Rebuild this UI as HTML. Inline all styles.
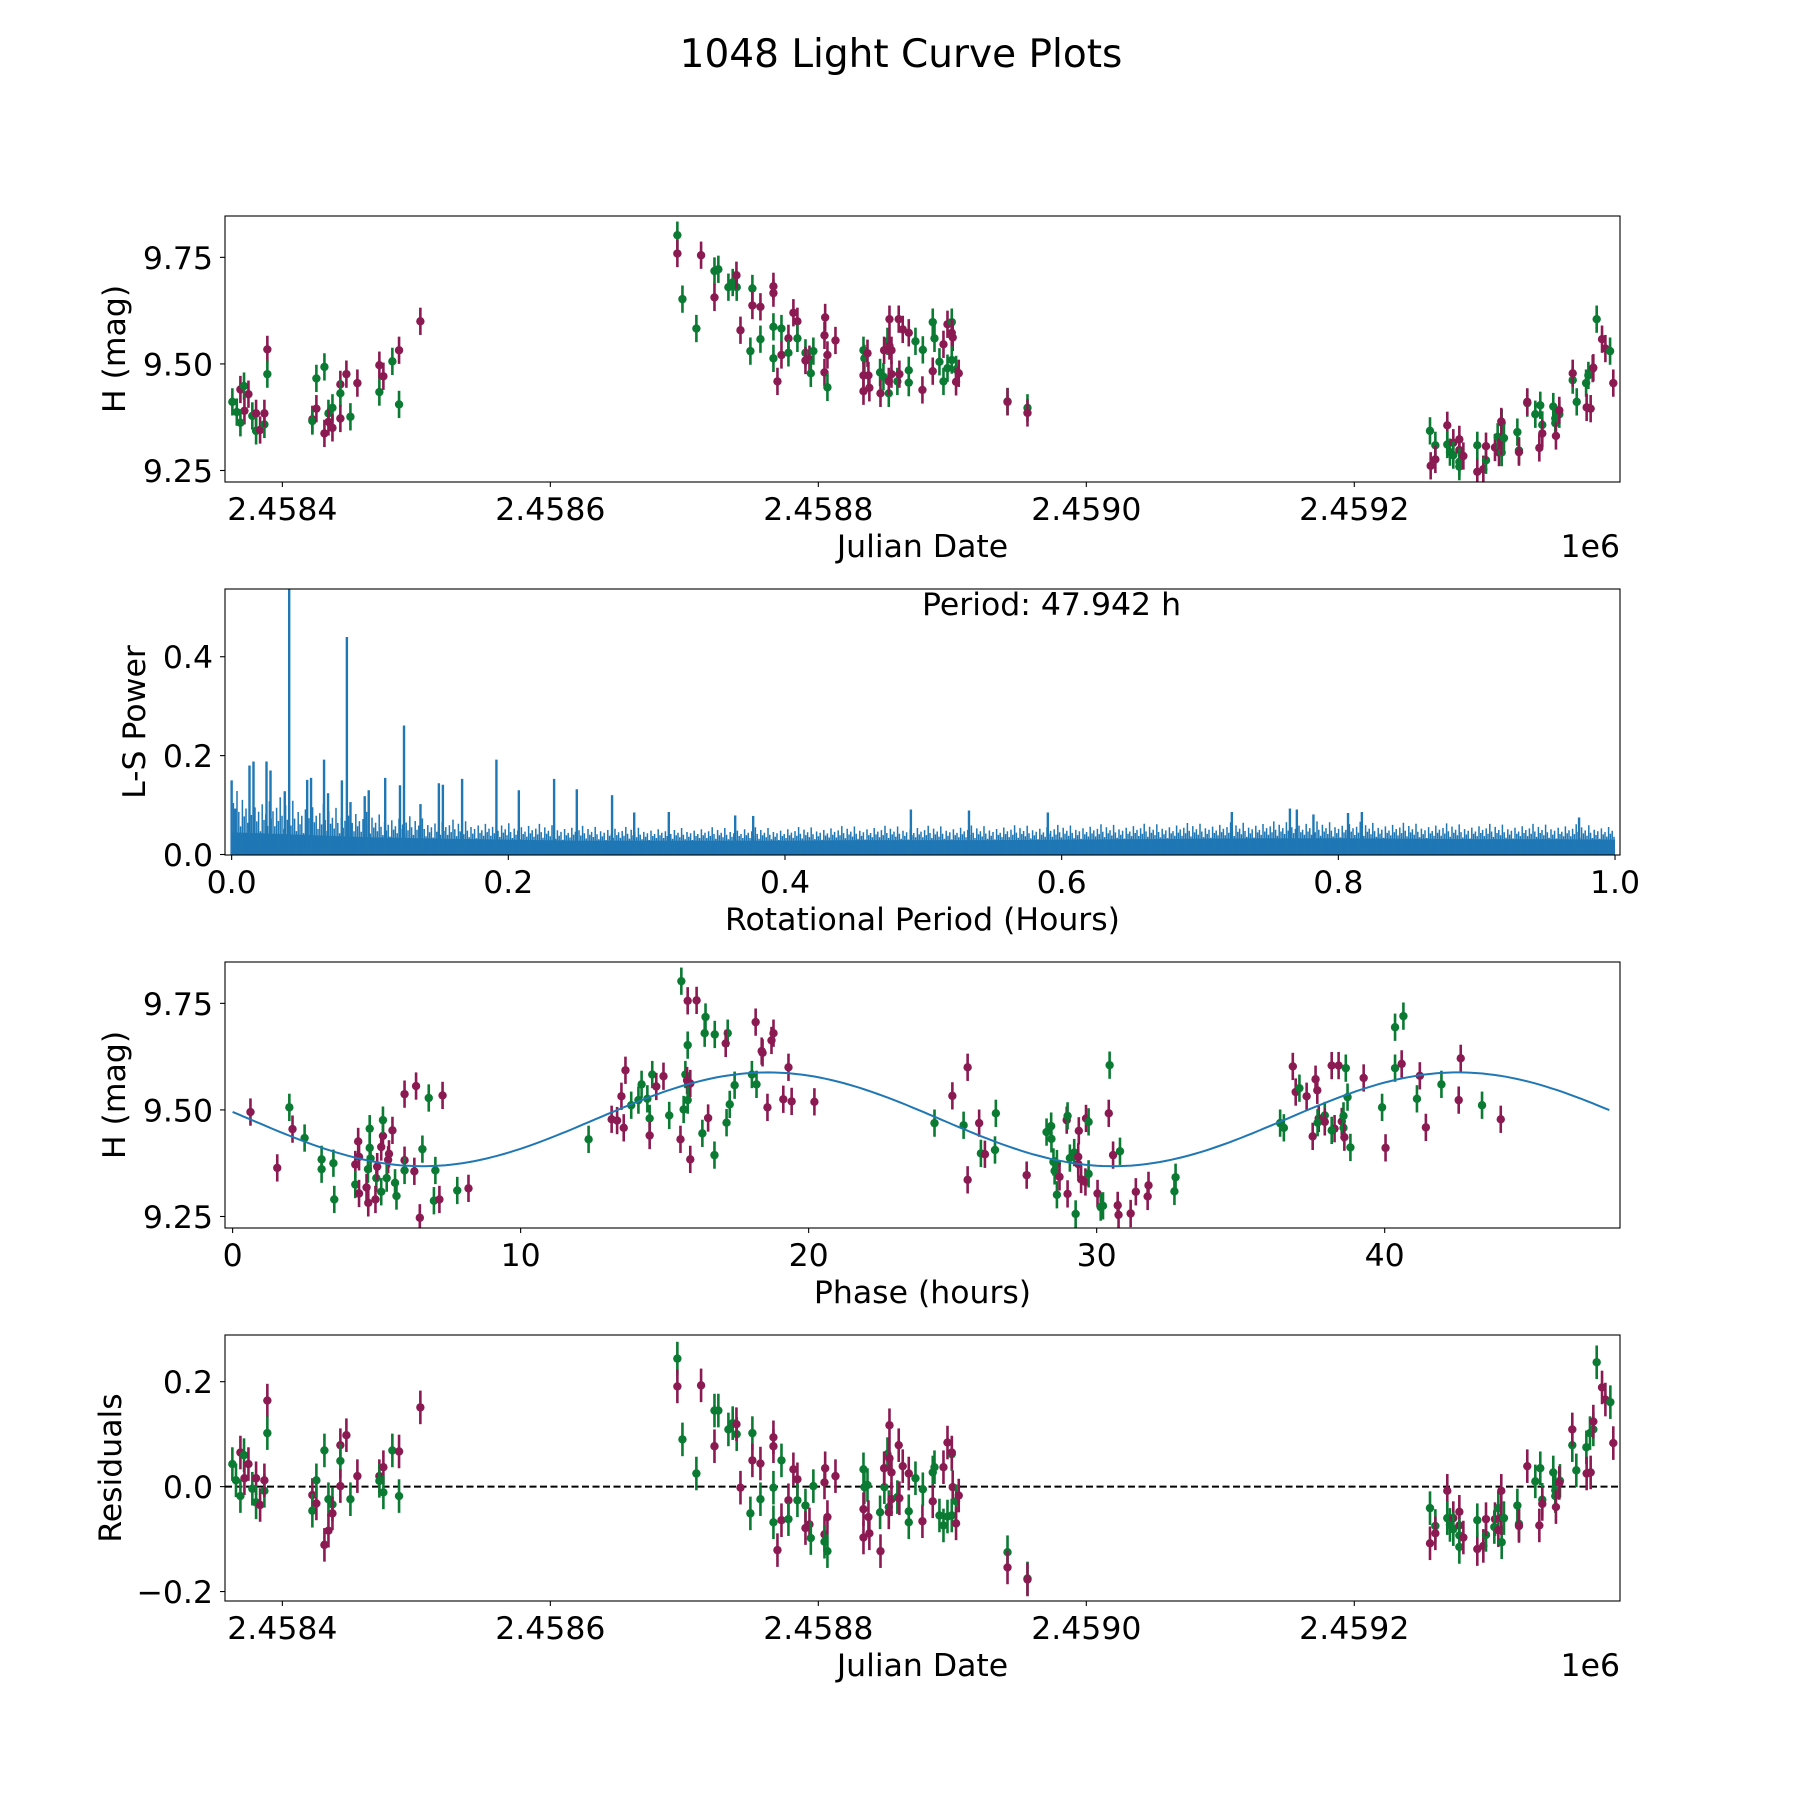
<!DOCTYPE html>
<html><head><meta charset="utf-8"><title>1048 Light Curve Plots</title>
<style>
html,body{margin:0;padding:0;background:#fff;}
svg{display:block;font-family:"DejaVu Sans","Liberation Sans",sans-serif;}
</style></head>
<body>
<svg id="fig" xmlns="http://www.w3.org/2000/svg" width="1800" height="1800" viewBox="0 0 1800 1800">
<rect width="1800" height="1800" fill="#fff"/>
<text x="901" y="67" font-size="39" text-anchor="middle">1048 Light Curve Plots</text>
</svg>
<script>
// ---------- Panel 1: light curve (JD - 2458000, H mag, band) ----------
const lcJD = [362.7,366.0,368.7,371.4,371.7,368.7,374.7,377.6,380.4,380.4,383.4,386.6,386.6,388.8,388.8,
422.4,422.4,425.4,425.4,431.4,431.4,434.4,434.4,437.4,437.4,443.3,443.3,443.3,447.8,450.8,456.0,
472.4,472.4,475.4,482.1,487.1,487.1,503.0,
694.8,694.8,698.6,712.5,709.0,722.5,725.4,722.5,732.9,736.1,739.1,738.9,741.9,750.8,750.8,756.8,749.3,756.8,
766.5,766.5,766.5,766.5,769.5,772.5,772.5,777.7,777.7,781.4,784.4,784.4,790.4,790.4,793.4,794.4,796.3,
805.1,804.6,804.6,806.8,806.8,812.8,833.7,834.4,836.7,833.7,837.4,833.7,838.1,846.1,846.4,848.6,851.6,
849.1,853.1,853.1,854.6,852.6,852.6,854.6,859.0,860.0,860.5,863.0,867.5,867.5,867.5,872.5,877.7,878.0,
885.4,886.7,885.4,890.4,893.4,893.4,896.4,899.6,899.6,900.3,896.4,899.6,902.8,904.8,902.8,941.2,941.2,956.1,956.1,
1256.5,1257.0,1260.5,1260.5,1269.4,1269.4,1271.4,1273.9,1273.9,1278.4,1278.4,1278.4,1278.4,1281.4,1291.8,1291.8,
1296.3,1298.3,1298.3,1305.0,1307.0,1308.0,1310.0,1309.7,1310.0,1309.7,1311.7,1321.7,1322.9,1322.9,1329.1,1329.1,
1335.1,1338.8,1338.1,1340.3,1340.3,1348.5,1350.0,1350.0,1350.5,1353.0,1353.0,1363.0,1363.0,1366.0,1373.0,1374.7,
1373.4,1376.4,1377.9,1378.4,1380.9,1384.9,1387.4,1390.9,1393.3];
const lcMag = [9.411,9.387,9.440,9.448,9.390,9.362,9.429,9.378,9.384,9.343,9.345,9.358,9.384,9.534,9.476,
9.370,9.366,9.395,9.466,9.493,9.337,9.384,9.364,9.397,9.350,9.452,9.431,9.372,9.476,9.376,9.455,
9.497,9.434,9.471,9.506,9.532,9.405,9.600,
9.802,9.759,9.652,9.755,9.583,9.718,9.722,9.656,9.680,9.691,9.680,9.708,9.579,9.677,9.637,9.634,9.530,9.558,
9.682,9.666,9.587,9.513,9.459,9.583,9.521,9.560,9.526,9.620,9.600,9.560,9.526,9.508,9.511,9.478,9.530,
9.609,9.567,9.480,9.445,9.521,9.555,9.532,9.513,9.525,9.473,9.473,9.436,9.444,9.480,9.431,9.470,9.553,
9.532,9.605,9.542,9.532,9.431,9.459,9.476,9.459,9.605,9.476,9.581,9.573,9.485,9.456,9.553,9.439,9.533,
9.598,9.560,9.483,9.505,9.546,9.459,9.593,9.598,9.573,9.562,9.490,9.509,9.487,9.478,9.458,9.412,9.411,9.397,9.385,
9.343,9.261,9.309,9.276,9.356,9.311,9.293,9.315,9.286,9.323,9.298,9.270,9.259,9.284,9.247,9.309,
9.253,9.274,9.307,9.304,9.329,9.292,9.362,9.365,9.292,9.318,9.326,9.340,9.297,9.293,9.408,9.411,
9.382,9.403,9.303,9.357,9.337,9.400,9.372,9.361,9.331,9.382,9.391,9.462,9.478,9.411,9.455,9.473,
9.398,9.395,9.489,9.491,9.605,9.558,9.536,9.530,9.455];
const lcBand = "ggmgmgmgmgmgmmg"+"mgmggmgmgmmgmmgm"+"mgmgmgm"+
"gmgmgggmgg"+"gmmgmmggmm"+"ggmgmmgmmg"+"gmmggmmmgm"+"mggmmmmmgm"+"ggmmmmgmmg"+"mmmmgggmgg"+"gmgmgmgmmg"+"ggmmgmgm"+
"gmgmmggmgm"+"mggmmgmgmm"+"gmgmgmgggm"+"gmggmgmggg"+"mgmgmgggmm"+"gmgmmgm";

// ---------- Panel 2: Lomb-Scargle periodogram ----------
const lsGrid  = [0,0.05,0.1,0.15,0.2,0.25,0.3,0.35,0.4,0.45,0.5,0.55,0.6,0.65,0.7,0.75,0.8,0.85,0.9,0.95,1.0];
const lsFloor = [0.045,0.040,0.035,0.032,0.030,0.028,0.028,0.028,0.028,0.029,0.029,0.029,0.030,0.031,0.032,0.033,0.033,0.032,0.031,0.031,0.030];
const lsNoise = [0.130,0.110,0.085,0.072,0.065,0.058,0.055,0.055,0.055,0.058,0.058,0.059,0.060,0.062,0.064,0.067,0.067,0.064,0.062,0.062,0.060];
const lsPeakPeriod = [0.000,0.0026,0.0129,0.0158,0.0252,0.0281,0.0384,0.0416,0.0546,0.0574,0.0668,0.0697,0.0797,0.0833,0.0859,
0.0962,0.0991,0.111,0.1217,0.1246,0.1365,0.1498,0.1527,0.1666,0.1914,0.2076,0.2331,0.2495,0.275,0.291,0.316,0.364,0.377,
0.491,0.533,0.590,0.723,0.765,0.770,0.782,0.807,0.817,0.974];
const lsPeakPower = [0.150,0.093,0.180,0.188,0.188,0.170,0.128,0.600,0.151,0.155,0.192,0.124,0.150,0.440,0.106,
0.118,0.130,0.155,0.140,0.261,0.102,0.144,0.141,0.153,0.192,0.130,0.153,0.132,0.120,0.085,0.086,0.079,0.078,
0.091,0.089,0.085,0.086,0.093,0.091,0.081,0.084,0.086,0.075];
const lsPeriodLabel = "Period: 47.942 h";

// ---------- Panel 3: phased light curve ----------
const phHours = [0.62,1.55,1.97,2.08,2.50,3.09,3.09,3.50,3.53,4.26,4.26,4.36,4.39,4.39,4.76,4.76,4.79,4.70,4.65,4.71,
4.99,5.02,4.96,5.16,5.16,5.22,5.22,5.40,5.43,5.55,5.35,5.64,5.69,5.97,5.97,5.97,6.37,6.31,6.50,6.59,6.81,7.29,7.04,6.99,7.18,7.80,8.19,
12.36,13.16,13.35,13.58,13.50,13.64,13.84,14.09,14.20,14.40,14.48,14.48,14.57,14.71,14.96,15.16,15.55,15.58,15.80,16.11,15.80,15.72,
15.78,15.89,15.80,15.66,15.89,16.42,16.39,16.74,17.19,17.12,16.51,16.31,16.73,17.26,17.43,17.15,18.03,18.16,18.37,18.40,18.71,18.78,
18.19,18.57,19.30,19.12,19.41,20.20,
24.37,24.99,25.52,25.52,25.38,25.92,25.98,26.12,26.47,26.50,27.57,28.26,28.42,28.43,28.50,28.54,28.62,28.62,28.71,28.96,28.99,28.99,
29.07,29.22,29.27,29.38,29.36,29.36,29.46,29.61,29.63,29.72,29.72,30.03,30.14,30.22,30.42,30.45,30.57,30.81,30.73,30.76,31.18,31.36,
31.77,31.80,32.70,32.74,36.37,36.50,36.81,36.91,37.04,37.29,37.50,37.60,37.66,37.92,37.71,37.67,37.92,38.16,38.40,38.65,38.26,38.16,
38.51,38.57,38.57,38.60,38.71,38.81,39.27,39.91,40.03,40.36,40.65,40.36,40.59,41.22,41.12,41.43,41.97,42.57,42.64,43.38,44.03];
const phMag = [9.495,9.364,9.506,9.455,9.434,9.384,9.361,9.375,9.290,9.372,9.325,9.426,9.390,9.304,9.456,9.411,9.386,9.361,9.318,9.282,
9.340,9.367,9.290,9.308,9.413,9.439,9.476,9.383,9.397,9.452,9.340,9.329,9.298,9.537,9.382,9.358,9.556,9.356,9.247,9.408,9.528,9.534,9.358,9.287,9.290,9.311,9.316,
9.431,9.478,9.475,9.458,9.532,9.593,9.511,9.523,9.560,9.526,9.480,9.440,9.583,9.555,9.579,9.487,9.431,9.802,9.756,9.757,9.652,9.583,
9.569,9.562,9.523,9.501,9.384,9.718,9.680,9.677,9.680,9.656,9.481,9.445,9.394,9.513,9.558,9.470,9.583,9.706,9.638,9.634,9.663,9.680,
9.560,9.506,9.600,9.525,9.520,9.519,
9.469,9.533,9.600,9.336,9.464,9.469,9.398,9.396,9.406,9.492,9.347,9.448,9.462,9.432,9.378,9.357,9.374,9.301,9.343,9.476,9.486,9.303,
9.387,9.400,9.256,9.451,9.390,9.373,9.337,9.331,9.480,9.472,9.350,9.304,9.272,9.275,9.492,9.605,9.394,9.403,9.276,9.254,9.257,9.308,
9.297,9.323,9.309,9.342,9.469,9.458,9.602,9.542,9.551,9.532,9.438,9.572,9.546,9.487,9.480,9.470,9.472,9.604,9.604,9.598,9.456,9.452,
9.473,9.486,9.458,9.436,9.530,9.412,9.575,9.506,9.411,9.694,9.720,9.598,9.608,9.580,9.526,9.459,9.560,9.523,9.621,9.511,9.478];
const phBand = "mmgmgggggm"+"gmmmggggmm"+"gmmgmmgmmm"+"gggmmgmmmg"+"gmggmgmgmm"+"mmmgggggmg"+"mmgmgmmggm"+"mggmggggmm"+"ggggggmmmm"+"mgmmmmm"+
"gmmmgmgmgg"+"mgggggggmm"+"gmgggmmmmm"+"mggmggmgmg"+"mmmmmmgggg"+"mmgmmmmgmg"+"mmmgmgmggm"+"ggmgmgggmm"+"gmgmmgmmg";
const fitMean = 9.478, fitAmp = 0.11, fitHalfPeriod = 23.971, fitMinPhase = 6.6;

// ---------- Panel 4: residuals (JD - 2458000, residual, band) ----------
const rsJD = [362.7,365.4,368.7,371.4,371.7,368.7,374.7,377.6,380.4,380.4,383.4,386.6,386.6,388.8,388.8,
422.4,422.4,425.4,425.4,431.4,431.4,434.4,434.4,437.4,437.4,443.3,443.3,443.3,447.8,450.8,456.0,472.4,472.4,475.4,475.4,482.1,487.1,487.1,503.0,
694.8,694.8,698.6,712.5,709.0,722.5,725.4,722.5,732.9,736.1,739.1,738.9,741.9,750.8,750.8,756.8,749.3,756.8,766.5,766.5,766.5,766.5,769.5,
772.5,772.5,777.7,777.7,781.4,784.4,784.4,790.4,790.4,793.4,794.4,796.3,805.1,804.6,804.6,806.8,804.6,806.8,812.8,833.7,834.4,836.7,833.7,
837.4,833.7,838.1,846.1,846.4,849.3,851.6,849.1,853.1,853.1,854.6,852.6,852.6,854.6,859.0,860.0,860.5,863.0,867.5,867.5,867.5,872.5,877.7,
878.0,885.4,886.7,885.4,890.4,893.4,893.4,896.4,899.6,899.6,900.3,896.4,899.6,902.8,904.8,902.8,941.2,941.2,956.1,956.1,
1256.5,1256.5,1260.5,1260.5,1269.4,1269.4,1271.4,1273.9,1273.9,1278.4,1278.4,1278.4,1278.4,1281.4,1291.8,1291.8,1296.3,1298.3,1298.3,
1305.0,1304.5,1307.5,1307.5,1309.7,1310.0,1309.7,1311.7,1321.7,1322.9,1322.9,1329.1,1335.1,1338.8,1338.1,1340.3,1340.3,1348.5,1350.0,
1350.0,1350.5,1353.5,1353.0,1362.7,1362.7,1365.7,1373.2,1375.9,1373.4,1376.4,1378.4,1378.4,1380.9,1384.9,1387.4,1391.1,1393.3];
const rsVal = [0.043,0.012,0.065,0.060,0.016,-0.018,0.043,-0.004,0.016,-0.030,-0.035,-0.008,0.012,0.164,0.102,
-0.016,-0.046,-0.032,0.012,0.069,-0.111,-0.024,-0.084,-0.034,-0.051,0.079,0.049,0.001,0.098,-0.024,0.020,0.020,0.011,0.037,-0.011,0.069,0.067,-0.018,0.151,
0.244,0.191,0.090,0.193,0.025,0.145,0.145,0.077,0.109,0.121,0.100,0.119,-0.002,0.102,0.050,0.044,-0.051,-0.024,0.094,0.077,-0.002,-0.068,-0.121,
0.050,-0.064,-0.026,-0.062,0.033,0.014,-0.026,-0.036,-0.079,-0.072,-0.098,0.001,0.035,0.008,-0.091,-0.123,-0.105,-0.058,0.020,0.033,-0.001,0.003,-0.043,
-0.058,-0.097,-0.089,-0.049,-0.123,-0.001,0.062,0.035,0.117,0.054,0.027,-0.039,-0.049,-0.024,-0.020,0.079,-0.022,0.039,0.025,-0.047,-0.068,0.016,-0.066,
-0.005,0.027,0.037,-0.028,-0.055,0.037,-0.074,0.084,0.062,0.065,-0.001,-0.057,-0.055,-0.028,-0.017,-0.070,-0.125,-0.154,-0.175,-0.177,
-0.041,-0.108,-0.075,-0.089,-0.008,-0.060,-0.073,-0.060,-0.081,-0.048,-0.074,-0.093,-0.115,-0.097,-0.119,-0.064,-0.113,-0.092,-0.062,
-0.062,-0.077,-0.083,-0.041,-0.008,-0.106,-0.060,-0.060,-0.036,-0.071,-0.075,0.039,0.010,0.035,-0.074,-0.025,-0.033,0.027,-0.007,
-0.018,-0.039,0.011,0.007,0.079,0.109,0.031,0.075,0.102,0.025,0.027,0.109,0.124,0.237,0.189,0.166,0.161,0.083];
const rsBand = "ggmgmgmgmg"+"mgmmgmgmgg"+"mgmgmmgmmg"+"mmgmggmgm"+
"gmgmgggmgg"+"gmmgmmggmm"+"ggmgmmgmmg"+"gmmggmmmgg"+"mmgggmmmmg"+"mggmmmmgmm"+"gmmmmgggmg"+"ggmgmgmgmm"+"gggmmgmgm"+
"gmgmmggmgm"+"mggmmgmgmm"+"gmgmgmgggm"+"mggmgmgggm"+"gmgmgggmmg"+"mgmmgm";
const ERR = 0.032;

// ---------- rendering ----------
const NS = "http://www.w3.org/2000/svg";
const svg = document.getElementById('fig');
const COL = {g:'#0b7a32', m:'#8b1a52'};
const BLUE = '#1f77b4';
const L = 225, R = 1620;
function mk(tag, attrs, parent){
  const e = document.createElementNS(NS, tag);
  for (const k in attrs) e.setAttribute(k, attrs[k]);
  (parent||svg).appendChild(e); return e;
}
function lin(d0,d1,r0,r1){ return v => r0 + (v-d0)/(d1-d0)*(r1-r0); }

function axesFrame(name, top, bot, xs, xticks, xlabels, ys, yticks, ylabels, xlab, ylab, ylabX, offset){
  const g = mk('g', {});
  
  
  xticks.forEach((t,i)=>{
    const x = xs(t);
    const tk = mk('line',{x1:x,x2:x,y1:bot,y2:bot+5,stroke:'#000','stroke-width':1.1},g);
    
    
    const tl = mk('text',{x:x,y:bot+38,'font-size':31.5,'text-anchor':'middle'},g);
    tl.textContent = xlabels[i];
    
    
  });
  yticks.forEach((t,i)=>{
    const y = ys(t);
    const tk = mk('line',{x1:L-5,x2:L,y1:y,y2:y,stroke:'#000','stroke-width':1.1},g);
    
    
    const tl = mk('text',{x:L-12,y:y+11.5,'font-size':31.5,'text-anchor':'end'},g);
    tl.textContent = ylabels[i];
    
    
  });
  const xl = mk('text',{x:(L+R)/2,y:bot+75,'font-size':31.5,'text-anchor':'middle'},g);
  xl.textContent = xlab;
  
  
  const cy = (top+bot)/2;
  const yl = mk('text',{x:ylabX,y:cy,'font-size':31.5,'text-anchor':'middle','dominant-baseline':'central',transform:`rotate(-90 ${ylabX} ${cy})`},g);
  yl.textContent = ylab;
  
  
  if (offset){
    const o = mk('text',{x:R,y:bot+75,'font-size':31.5,'text-anchor':'end'},g);
    o.textContent = offset;
    
    
  }
  return g;
}
function spine(name, top, bot){
  const r = mk('rect',{x:L,y:top,width:R-L,height:bot-top,fill:'none',stroke:'#000','stroke-width':1.1});
  
  
}
function clip(id, top, bot){
  const c = mk('clipPath',{id:id});
  mk('rect',{x:L,y:top,width:R-L,height:bot-top},c);
}
function errPoints(name, xs, ys, X, Y, B, clipId){
  const g = mk('g',{'clip-path':`url(#${clipId})`});
  
  
  for (let i=0;i<X.length;i++){
    const c = COL[B[i]] || COL.g;
    const x = xs(X[i]);
    const ln = mk('line',{x1:x,x2:x,y1:ys(Y[i]-ERR),y2:ys(Y[i]+ERR),stroke:c,'stroke-width':2.6},g);
    
    
    const p = mk('circle',{cx:x,cy:ys(Y[i]),r:4.2,fill:c},g);
    
    
  }
}
const jdTicks = [400,600,800,1000,1200];
const jdTickLabels = ['2.4584','2.4586','2.4588','2.4590','2.4592'];
const jdScale = lin(357.2, 1398.3, L, R);

// Panel 1
{
  const top=216, bot=482;
  const ys = lin(9.223, 9.847, bot, top);
  clip('c1',top,bot);
  errPoints('light-curve-points', jdScale, ys, lcJD, lcMag, lcBand, 'c1');
  axesFrame('light-curve-axes', top, bot, jdScale, jdTicks, jdTickLabels, ys, [9.25,9.5,9.75], ['9.25','9.50','9.75'], 'Julian Date', 'H (mag)', 115, '1e6');
  spine('light-curve', top, bot);
}
// Panel 2
{
  const top=589, bot=855;
  const xs = lin(-0.0048, 1.0036, L, R);
  const ys = lin(-0.001, 0.537, bot, top);
  clip('c2',top,bot);
  const g = mk('g',{'clip-path':'url(#c2)'});
  
  
  function interp(arr, p){
    const step = lsGrid[1]-lsGrid[0];
    let i = Math.min(lsGrid.length-2, Math.max(0, Math.floor(p/step)));
    const t = (p - lsGrid[i])/step;
    return arr[i]*(1-t) + arr[i+1]*t;
  }
  let d = `M${xs(lsGrid[0])},${ys(0)}`;
  lsGrid.forEach((p,i)=>{ d += ` L${xs(p)},${ys(lsFloor[i])}`; });
  d += ` L${xs(lsGrid[lsGrid.length-1])},${ys(0)} Z`;
  const band = mk('path',{d:d,fill:BLUE},g);
  
  
  // jagged noise texture (visual pattern between floor and noise envelope)
  const tex = [0.2,0.7,0.35,1,0.5,0.15,0.8,0.4,0.6,0.25,0.95,0.45,0.1,0.65,0.3,0.55,0.05,0.75,0.35,0.5,0.2,0.85,0.4,0.6];
  let nd = '';
  const x0 = xs(0), x1 = xs(1);
  let k = 0;
  for (let x=x0; x<=x1; x+=1.8, k++){
    const p = (x - x0)/(x1-x0);
    const f = interp(lsFloor,p), n = interp(lsNoise,p);
    nd += `M${x.toFixed(1)},${ys(0).toFixed(1)}V${ys(f+(n-f)*tex[k%tex.length]).toFixed(1)}`;
  }
  const nz = mk('path',{d:nd,stroke:BLUE,'stroke-width':1.5,fill:'none'},g);
  
  
  lsPeakPeriod.forEach((p,i)=>{
    const s = mk('line',{x1:xs(p),x2:xs(p),y1:ys(0),y2:ys(lsPeakPower[i]),stroke:BLUE,'stroke-width':2.4},g);
    
    
  });
  axesFrame('periodogram-axes', top, bot, xs, [0,0.2,0.4,0.6,0.8,1.0], ['0.0','0.2','0.4','0.6','0.8','1.0'], ys, [0,0.2,0.4], ['0.0','0.2','0.4'], 'Rotational Period (Hours)', 'L-S Power', 135, null);
  const pt = mk('text',{x:922,y:615,'font-size':31.5});
  pt.textContent = lsPeriodLabel;
  
  
  spine('periodogram', top, bot);
}
// Panel 3
{
  const top=962, bot=1228;
  const xs = lin(-0.264, 48.17, L, R);
  const ys = lin(9.223, 9.847, bot, top);
  clip('c3',top,bot);
  errPoints('phased-points', xs, ys, phHours, phMag, phBand, 'c3');
  let d = '';
  for (let t=0; t<=47.942; t+=0.2){
    const m = fitMean - fitAmp*Math.cos(2*Math.PI*(t-fitMinPhase)/fitHalfPeriod);
    d += (d?' L':'M') + xs(t).toFixed(1)+','+ys(m).toFixed(1);
  }
  const fl = mk('path',{d:d,stroke:BLUE,'stroke-width':2,fill:'none','clip-path':'url(#c3)'});
  
  
  axesFrame('phased-axes', top, bot, xs, [0,10,20,30,40], ['0','10','20','30','40'], ys, [9.25,9.5,9.75], ['9.25','9.50','9.75'], 'Phase (hours)', 'H (mag)', 115, null);
  spine('phased', top, bot);
}
// Panel 4
{
  const top=1335, bot=1601;
  const ys = lin(-0.218, 0.289, bot, top);
  clip('c4',top,bot);
  const zl = mk('line',{x1:L,x2:R,y1:ys(0),y2:ys(0),stroke:'#000','stroke-width':2,'stroke-dasharray':'7,3.5'});
  
  
  errPoints('residual-points', jdScale, ys, rsJD, rsVal, rsBand, 'c4');
  axesFrame('residual-axes', top, bot, jdScale, jdTicks, jdTickLabels, ys, [-0.2,0,0.2], ['\u22120.2','0.0','0.2'], 'Julian Date', 'Residuals', 111, '1e6');
  spine('residual', top, bot);
}
</script>
</body></html>
